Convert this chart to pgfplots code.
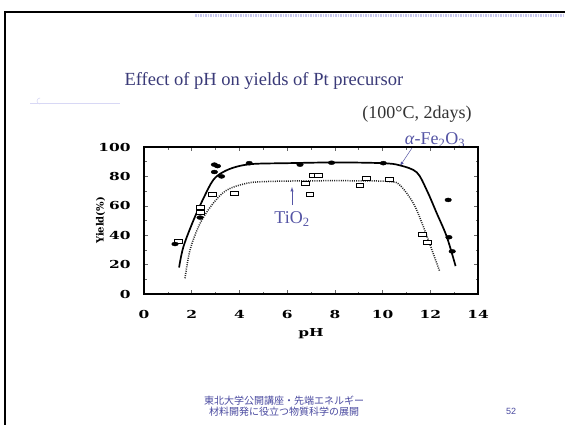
\documentclass[border=0pt]{standalone}
\usepackage{pgfplots}
\pgfplotsset{compat=1.18}
\usepackage{fontspec}
\setmainfont{Liberation Serif}
\newfontfamily\tickfont{DejaVu Serif}[FakeStretch=1.4]
\newfontfamily\labfont{DejaVu Serif}
\newfontfamily\cjk{Noto Sans CJK JP}
\newfontfamily\sansf{Liberation Sans}
\definecolor{titleblue}{HTML}{3A3A78}
\definecolor{lblblue}{HTML}{5555A5}
\definecolor{footblue}{HTML}{4A4AA0}
\definecolor{band}{HTML}{C8C8F0}
\begin{document}
\begin{tikzpicture}[x=1pt,y=1pt]
\useasboundingbox (0,0) rectangle (565,424);
\fill[white] (0,0) rectangle (565,424);
% slide frame
\draw[line width=1.8pt,black] (5,-10) -- (5,412) -- (575,412);
\draw[band,line width=3pt,dash pattern=on 1.5pt off 1pt] (195,408) -- (565,408);
\draw[band!70!white,line width=0.6pt] (30,321) -- (120,321);
\draw[band!70!white,line width=0.6pt] (40,326) arc (90:270:3);
% title
\node[anchor=west,text=titleblue,font=\fontsize{18.5}{20}\selectfont] at (121,343) {Effect of pH on yields of Pt precursor};
\node[text=black!80,font=\fontsize{18}{20}\selectfont] at (417,310) {(100\textdegree C, 2days)};
\node[text=lblblue,font=\fontsize{18}{20}\selectfont] at (435,284) {\textit{α}-Fe\textsubscript{2}O\textsubscript{3}};
\draw[lblblue,line width=0.5pt,-latex] (412,276) -- (400,258);
\node[text=lblblue,font=\fontsize{18}{20}\selectfont] at (292,205) {TiO\textsubscript{2}};
\draw[lblblue,line width=0.5pt,-latex] (292,219) -- (292,237);
% footer
\node[text=footblue,font=\cjk\fontsize{10}{11}\selectfont] at (284,23.5) {東北大学公開講座・先端エネルギー};
\node[text=footblue,font=\cjk\fontsize{10}{11}\selectfont] at (284,12.5) {材料開発に役立つ物質科学の展開};
\node[text=footblue,font=\sansf\fontsize{9}{11}\selectfont] at (511,12.5) {52};
\begin{axis}[
  at={(144pt,130pt)}, anchor=south west,
  scale only axis, width=334pt, height=147pt,
  xmin=0, xmax=14, ymin=0, ymax=100,
  xtick={0,2,...,14}, ytick={0,20,...,100},
  minor x tick num=1, minor y tick num=1,
  axis line style={line width=1.6pt},
  tick style={line width=0.5pt,black!60},
  major tick length=4pt, minor tick length=2.5pt,
  /pgf/number format/assume math mode=true,
  ticklabel style={font=\tickfont\bfseries\fontsize{11}{12}\selectfont},
  xticklabel style={yshift=-13pt},
  yticklabel style={xshift=-10pt},
  xlabel={pH}, ylabel={Yield(\%)},
  xlabel style={font=\tickfont\bfseries\fontsize{11}{12}\selectfont, at={(axis description cs:0.5,-0.27)}, anchor=center},
  ylabel style={font=\labfont\bfseries\fontsize{10}{12}\selectfont, at={(axis description cs:-0.13,0.5)}, anchor=center, rotate=0},
  clip=false,
]
% alpha-Fe2O3 fitted curve
\addplot[black, line width=1.7pt, smooth, tension=0.55] coordinates {
 (1.47,18) (1.65,32) (2.07,50) (2.49,65) (2.9,77.5) (3.32,83) (3.88,86.6) (4.6,88.5)
 (6,89) (8,89.5) (10,89) (10.73,87.5) (11.43,82.8) (11.85,70.7) (12.27,55) (12.69,39) (13.06,19)};
% TiO2 fitted curve
\addplot[black!85, line width=1.5pt, dash pattern=on 1pt off 1.2pt, smooth, tension=0.55] coordinates {
 (1.72,10.7) (1.93,30) (2.35,48) (2.9,61.7) (3.47,70.7) (4.3,75.3) (5.1,76.5) (7,77)
 (9,77) (10.3,76.5) (10.73,74) (11.29,61.7) (11.71,45.8) (12.12,27.7) (12.4,15.2)};
% TiO2 data
\addplot[only marks, mark=square*, mark size=2.6pt, mark options={xscale=1.5, yscale=0.8, fill=white, draw=black, line width=0.9pt}] coordinates {
 (1.44,35.6) (2.37,58.7) (2.37,55.3) (2.88,68) (3.79,68.5) (6.78,75.3) (6.96,67.8)
 (7.1,80.5) (7.3,80.5) (9.05,74) (9.33,78.7) (10.28,78.2) (11.68,40.6) (11.89,35.2)};
% alpha-Fe2O3 data
\addplot[only marks, mark=*, mark size=2.2pt, mark options={xscale=1.5, yscale=0.9, fill=black, draw=black}] coordinates {
 (1.30,34) (2.35,52) (2.95,88) (3.08,87) (2.95,83) (3.25,80) (4.41,89) (6.54,88)
 (7.86,89.3) (10.03,89) (12.75,64) (12.78,38.6) (12.92,29)};
\end{axis}
\end{tikzpicture}
\end{document}
